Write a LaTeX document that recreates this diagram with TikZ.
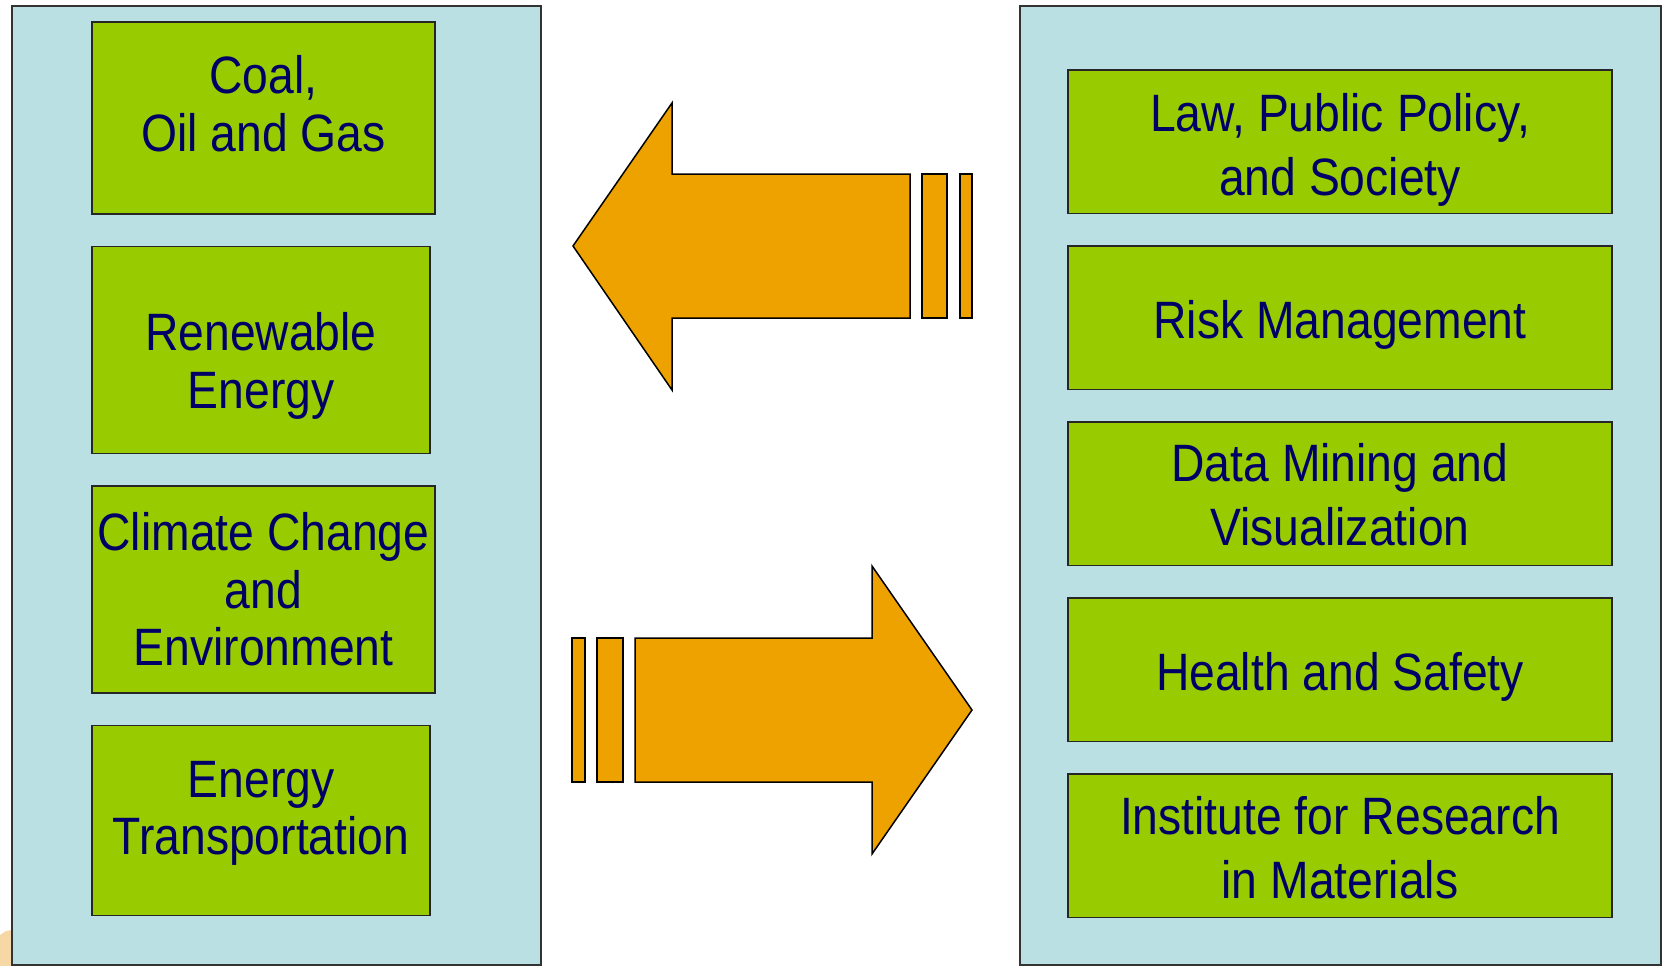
\documentclass[tikz,border=0pt]{standalone}
\usepackage{fontspec}
\setmainfont{Liberation Sans}[FakeStretch=0.88]
\usepackage{tikz}
\usetikzlibrary{positioning}
\definecolor{panelblue}{HTML}{BBE0E3}
\definecolor{fieldgreen}{HTML}{99CC00}
\definecolor{arroworange}{HTML}{EEA200}
\definecolor{textnavy}{HTML}{000066}
\definecolor{slidetan}{HTML}{F6D7A6}
\tikzstyle{panel} = [rectangle, anchor=north west, inner sep=0pt, outer sep=0pt, draw=black!80, line width=1.5pt, fill=panelblue]
\tikzstyle{field} = [rectangle, inner sep=0pt, outer sep=0pt, text=textnavy, draw=black!85, line width=1.5pt, fill=fieldgreen, font=\fontsize{52.6}{57.5}\selectfont]
\tikzstyle{rightfield} = [field, minimum width=544pt, minimum height=143.5pt, font=\fontsize{52.6}{64}\selectfont]
\tikzstyle{blockarrow} = [draw=black, line width=1.5pt, fill=arroworange, line join=miter]
% lines of a field, lifted by #1
\newcommand{\fieldtext}[2]{\raisebox{#1}[\height][\depth]{\begin{tabular}{@{}c@{}}#2\end{tabular}}}

\begin{document}
\begin{tikzpicture}[x=1pt, y=-1pt, node distance=32.5pt]
			\useasboundingbox (0,0) rectangle (1666,966);
			\fill [slidetan] (0,935) -- (6,931) -- (12,930) -- (12,966) -- (0,966) -- cycle;
			\node (energy) [panel, minimum width=529pt, minimum height=959pt] at (12,6) {};
			\node (expertise) [panel, minimum width=641pt, minimum height=959pt] at (1020,6) {};
			%-----------------------------------------------
			\node (coal) [field, anchor=north west, minimum width=343pt, minimum height=192pt] at (92,22) {\fieldtext{7pt}{Coal,\\Oil and Gas}};
			\node (renewable) [field, below=of coal.south west, anchor=north west, minimum width=338pt, minimum height=207pt] {\fieldtext{-18pt}{Renewable\\Energy}};
			\node (climate) [field, below=of renewable.south west, anchor=north west, minimum width=343pt, minimum height=207pt] {\fieldtext{-7pt}{Climate Change\\and\\Environment}};
			\node (transport) [field, below=of climate.south west, anchor=north west, minimum width=338pt, minimum height=190pt] {\fieldtext{6pt}{Energy\\Transportation}};
			%-----------------------------------------------
			\node (law) [rightfield, anchor=north west] at (1068,70) {\fieldtext{-9pt}{Law, Public Policy,\\and Society}};
			\node (risk) [rightfield, below=of law] {\fieldtext{-8pt}{Risk Management}};
			\node (mining) [rightfield, below=of risk] {\fieldtext{-7pt}{Data Mining and\\Visualization}};
			\node (health) [rightfield, below=of mining] {\fieldtext{-8pt}{Health and Safety}};
			\node (materials) [rightfield, below=of health] {\fieldtext{-7.5pt}{Institute for Research\\in Materials}};
			%-----------------------------------------------
			\draw [blockarrow] (573,246) -- (672,103) -- (672,174) -- (910,174) -- (910,318) -- (672,318) -- (672,390) -- cycle;
			\draw [blockarrow] (922,174) rectangle (947,318);
			\draw [blockarrow] (960,174) rectangle (972,318);
			%-----------------------------------------------
			\draw [blockarrow] (972,710) -- (872,566) -- (872,638) -- (635,638) -- (635,782) -- (872,782) -- (872,854) -- cycle;
			\draw [blockarrow] (572,638) rectangle (585,782);
			\draw [blockarrow] (597,638) rectangle (623,782);
			\end{tikzpicture}
\end{document}
